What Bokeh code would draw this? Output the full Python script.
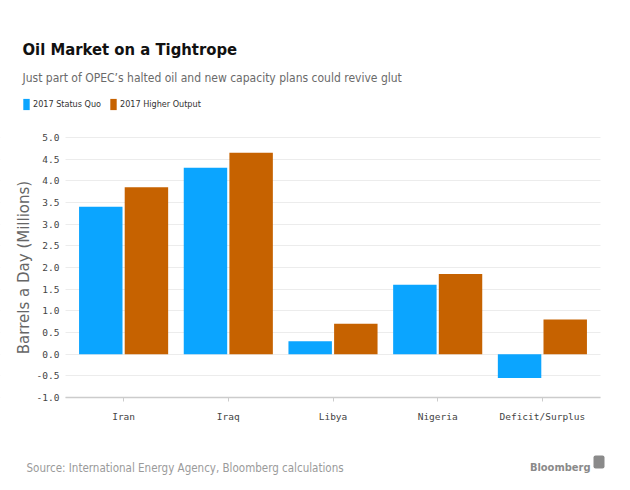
from bokeh.plotting import figure
from bokeh.models import (Range1d, ColumnDataSource, Label, Legend, LegendItem, LinearAxis,
                          Grid, FixedTicker, SingleIntervalTicker, NumeralTickFormatter,
                          BoxAnnotation)
from bokeh.transform import dodge
from bokeh.embed import file_html
from bokeh.resources import INLINE

categories = ["Iran", "Iraq", "Libya", "Nigeria", "Deficit/Surplus"]
status_quo = [3.4, 4.3, 0.3, 1.6, -0.55]
higher_output = [3.85, 4.65, 0.7, 1.85, 0.8]
series_names = ["2017 Status Quo", "2017 Higher Output"]
title_text = "Oil Market on a Tightrope"
subtitle_text = "Just part of OPEC\u2019s halted oil and new capacity plans could revive glut"
source_text = "Source: International Energy Agency, Bloomberg calculations"
brand_text = "Bloomberg"
y_label = "Barrels a Day (Millions)"
y_min, y_max, y_step = -1.0, 5.0, 0.5

BLUE = "#0BA5FF"
ORANGE = "#C66200"
COND = "DejaVu Sans Condensed"
MONO = "DejaVu Sans Mono"

# canvas geometry (pixels)
W, H = 614, 476
PLOT_L, PLOT_R, PLOT_T, PLOT_B = 65, 600, 137, 397    # chart area inside the canvas
PAD = 0.055                                            # outer padding in category units
CAT_W = (PLOT_R - PLOT_L) / (len(categories) + 2 * PAD)
x_grid_lo = -0.5 - PAD
x_grid_hi = len(categories) - 0.5 + PAD
x_lo = x_grid_lo - PLOT_L / CAT_W
x_hi = x_lo + W / CAT_W
y_px = (PLOT_B - PLOT_T) / (y_max - y_min)
y_hi = y_max + PLOT_T / y_px
y_lo = y_min - (H - PLOT_B) / y_px

src = ColumnDataSource(dict(idx=list(range(len(categories))), cat=categories,
                            a=status_quo, b=higher_output))

p = figure(width=W, height=H, output_backend="svg", toolbar_location=None,
           x_range=Range1d(x_lo, x_hi), y_range=Range1d(y_lo, y_hi),
           x_axis_location=None, y_axis_location=None, min_border=0)
p.outline_line_color = None
p.center = []   # drop the default grids

# y grid restricted to the chart area
yticker = SingleIntervalTicker(interval=y_step)
grid = Grid(dimension=1, ticker=yticker, bounds=(y_min, y_max),
            grid_line_color="#ececec", grid_line_width=1, level="underlay")
p.add_layout(grid)
p.add_layout(BoxAnnotation(right=x_grid_lo, fill_color="white", fill_alpha=1,
                           line_color=None, level="underlay"))
p.add_layout(BoxAnnotation(left=x_grid_hi, fill_color="white", fill_alpha=1,
                           line_color=None, level="underlay"))

r1 = p.vbar(x=dodge("idx", -0.218), top="a", width=0.415, source=src,
            fill_color=BLUE, line_color=None)
r2 = p.vbar(x=dodge("idx", 0.218), top="b", width=0.415, source=src,
            fill_color=ORANGE, line_color=None)

yaxis = LinearAxis(fixed_location=x_grid_lo, ticker=yticker, bounds=(y_min, y_max),
                   formatter=NumeralTickFormatter(format="0.0"))
yaxis.axis_line_color = None
yaxis.major_tick_line_color = None
yaxis.minor_tick_line_color = None
yaxis.major_label_text_font = MONO
yaxis.major_label_text_font_size = "9.5px"
yaxis.major_label_text_color = "#444444"
yaxis.major_label_standoff = 0
yaxis.axis_label = y_label
yaxis.axis_label_text_font = "DejaVu Sans"
yaxis.axis_label_text_font_style = "normal"
yaxis.axis_label_text_font_size = "15px"
yaxis.axis_label_text_color = "#666666"
yaxis.axis_label_standoff = 1
p.add_layout(yaxis, "left")

xaxis = LinearAxis(fixed_location=y_min, ticker=FixedTicker(ticks=list(range(len(categories)))),
                   bounds=(x_grid_lo, x_grid_hi),
                   major_label_overrides={i: c for i, c in enumerate(categories)})
xaxis.axis_line_color = "#cccccc"
xaxis.axis_line_width = 1.5
xaxis.major_tick_line_color = "#cccccc"
xaxis.major_tick_out = 4
xaxis.major_tick_in = 0
xaxis.minor_tick_line_color = None
xaxis.major_label_text_font = MONO
xaxis.major_label_text_font_size = "9.5px"
xaxis.major_label_text_color = "#444444"
xaxis.major_label_standoff = 9
p.add_layout(xaxis, "below")


def txt(x, y, text, **kw):
    p.add_layout(Label(x=x, y=H - y, x_units="screen", y_units="screen", text=text,
                       text_baseline="alphabetic", **kw))


txt(22, 49, title_text, text_font=COND, text_font_style="bold", text_font_size="16.5px",
    text_color="#111111")
txt(22, 77, subtitle_text, text_font=COND, text_font_size="12px", text_color="#6a6a6a")
txt(26, 467, source_text, text_font=COND, text_font_size="11.5px", text_color="#9a9a9a")
txt(590, 467, brand_text, text_font=COND, text_font_style="bold", text_font_size="11px",
    text_color="#8a8a8a", text_align="right")
p.add_layout(BoxAnnotation(left=593, right=604, bottom=H - 468, top=H - 455,
                           left_units="screen", right_units="screen",
                           bottom_units="screen", top_units="screen",
                           fill_color="#8a8a8a", fill_alpha=1, line_color=None,
                           border_radius=2))

legend = Legend(items=[LegendItem(label=series_names[0], renderers=[r1]),
                       LegendItem(label=series_names[1], renderers=[r2])],
                location=(22, H - 111), orientation="horizontal",
                glyph_width=8, glyph_height=14, label_height=14, label_standoff=3,
                spacing=8, padding=0, margin=0, border_line_color=None,
                background_fill_alpha=0, label_text_font=COND,
                label_text_font_size="9px", label_text_color="#333333")
p.add_layout(legend, "center")

open("out.html", "w").write(file_html(p, INLINE))
